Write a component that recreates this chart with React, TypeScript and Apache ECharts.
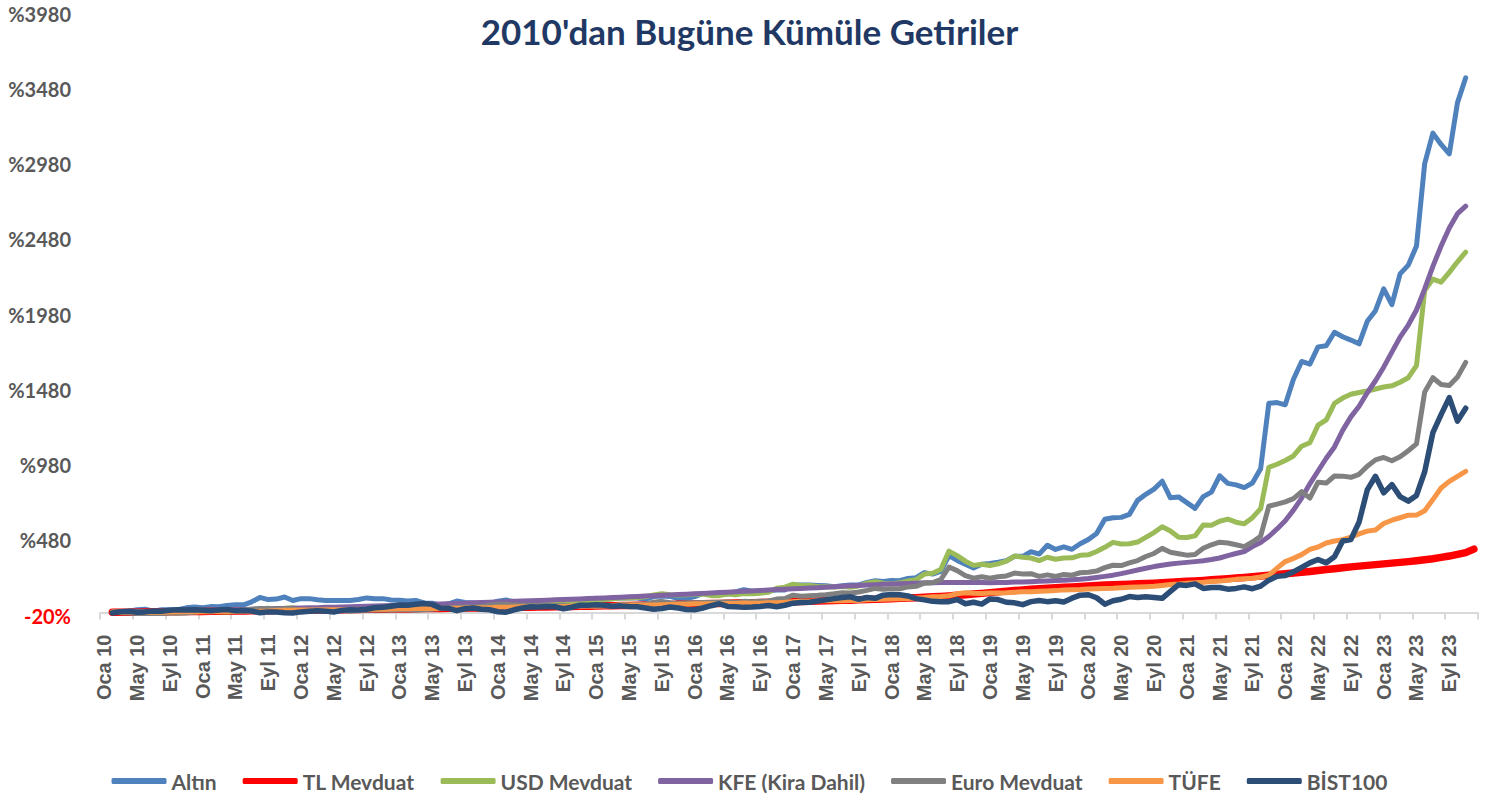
import React, { useEffect, useRef } from "react";
import * as echarts from "echarts";

const TITLE = "2010'dan Bugüne Kümüle Getiriler";
const MONTHS = ["Oca", "Şub", "Mar", "Nis", "May", "Haz", "Tem", "Ağu", "Eyl", "Eki", "Kas", "Ara"];
const YEARS = ["10", "11", "12", "13", "14", "15", "16", "17", "18", "19", "20", "21", "22", "23"];
const categories = YEARS.flatMap((y) => MONTHS.map((m) => `${m} ${y}`));

const Y_MIN = -20;
const Y_MAX = 3980;
const Y_STEP = 500;

// Cumulative returns (%), monthly, Jan 2010 .. Dec 2023
const altin = [
  null, 7, 5, 9, 18, 22, 9, 18, 18, 19, 31, 36,
  32, 39, 38, 47, 51, 51, 71, 100, 86, 89, 103, 80,
  92, 92, 84, 80, 80, 80, 80, 86, 97, 91, 92, 83,
  82, 76, 80, 63, 62, 48, 58, 76, 66, 63, 58, 60,
  75, 83, 71, 70, 62, 75, 70, 73, 72, 62, 63, 73,
  94, 88, 92, 96, 96, 96, 88, 106, 110, 107, 92, 92,
  105, 127, 117, 126, 123, 136, 151, 141, 145, 145, 150, 150,
  183, 182, 182, 179, 177, 171, 177, 183, 183, 200, 211, 206,
  212, 211, 226, 231, 265, 255, 273, 378, 346, 321, 296, 321,
  326, 334, 344, 374, 373, 404, 388, 447, 419, 436, 420, 457,
  485, 525, 620, 630, 632, 652, 745, 785, 820, 872, 762, 768,
  730, 692, 770, 800, 908, 858, 848, 830, 860, 955, 1390, 1395,
  1380, 1550, 1668, 1650, 1765, 1772, 1862, 1832, 1810, 1785, 1935, 2005,
  2150, 2045, 2250, 2308, 2435, 2983, 3185, 3110, 3047, 3388, 3553, null,
];

const tlMevduat = [
  null, 1, 1, 2, 2, 3, 4, 4, 5, 5, 6, 7,
  7, 8, 8, 9, 10, 10, 11, 12, 12, 13, 14, 15,
  15, 16, 17, 17, 18, 19, 20, 20, 21, 22, 22, 23,
  24, 24, 25, 26, 26, 27, 28, 28, 29, 30, 30, 31,
  32, 33, 34, 35, 35, 36, 37, 38, 39, 40, 41, 42,
  43, 44, 45, 46, 47, 48, 49, 51, 52, 53, 55, 56,
  57, 58, 59, 60, 62, 63, 64, 65, 66, 68, 69, 71,
  72, 73, 75, 76, 78, 79, 81, 82, 84, 86, 88, 90,
  92, 94, 96, 98, 101, 104, 107, 110, 114, 118, 123, 127,
  132, 137, 142, 146, 150, 154, 158, 161, 164, 167, 170, 173,
  176, 179, 182, 184, 186, 188, 191, 193, 195, 198, 201, 204,
  207, 210, 213, 217, 221, 225, 229, 233, 238, 243, 248, 253,
  258, 263, 268, 273, 279, 285, 291, 297, 303, 308, 313, 318,
  323, 328, 333, 338, 344, 350, 357, 366, 375, 386, 398, 421,
];

const usdMevduat = [
  null, 3, 2, 0, 7, 7, 2, 3, -2, -3, 4, 5,
  9, 9, 5, 4, 8, 11, 16, 21, 28, 22, 29, 31,
  23, 22, 24, 23, 30, 27, 25, 28, 26, 26, 26, 26,
  25, 28, 28, 27, 33, 38, 39, 45, 45, 43, 46, 55,
  64, 60, 55, 53, 52, 54, 56, 58, 66, 63, 63, 71,
  79, 84, 92, 97, 97, 99, 105, 117, 125, 118, 117, 118,
  122, 122, 112, 112, 123, 117, 126, 124, 128, 135, 161, 168,
  188, 178, 179, 173, 171, 170, 172, 167, 176, 195, 205, 194,
  191, 197, 210, 218, 255, 260, 286, 408, 378, 341, 313, 320,
  312, 323, 341, 375, 367, 362, 345, 367, 354, 362, 363, 380,
  383, 405, 433, 466, 455, 457, 468, 499, 531, 570, 542, 500,
  498, 509, 582, 580, 606, 620, 600, 589, 630, 690, 965, 985,
  1010, 1040, 1105, 1128, 1245, 1280, 1390, 1425, 1450, 1462, 1472, 1485,
  1498, 1506, 1530, 1560, 1640, 2140, 2215, 2195, 2260, 2330, 2395, null,
];

const kfe = [
  null, 1, 2, 3, 5, 6, 7, 8, 9, 10, 12, 13,
  14, 15, 16, 18, 19, 20, 22, 23, 24, 26, 27, 28,
  30, 31, 32, 34, 35, 37, 38, 40, 41, 43, 44, 46,
  48, 49, 51, 53, 55, 57, 58, 60, 62, 64, 66, 68,
  70, 72, 74, 76, 78, 80, 82, 84, 86, 88, 90, 93,
  95, 97, 100, 102, 105, 107, 110, 112, 115, 117, 120, 122,
  125, 127, 130, 133, 135, 138, 141, 143, 146, 149, 152, 154,
  157, 160, 163, 165, 168, 171, 174, 177, 179, 182, 184, 187,
  189, 191, 193, 195, 197, 198, 199, 200, 200, 200, 199, 199,
  198, 199, 200, 202, 203, 205, 207, 209, 212, 215, 218, 221,
  226, 233, 240, 248, 258, 270, 282, 294, 305, 314, 322, 328,
  333, 338, 344, 352, 362, 378, 392, 405, 438, 465, 505, 555,
  610, 680, 760, 855, 940, 1025, 1100, 1210, 1300, 1370, 1460, 1540,
  1630, 1730, 1830, 1910, 2010, 2150, 2300, 2435, 2555, 2650, 2700, null,
];

const euroMevduat = [
  null, 1, -1, -4, -6, -6, -5, -6, -4, -3, -3, 1,
  8, 8, 8, 11, 12, 17, 21, 26, 24, 23, 25, 23,
  15, 15, 17, 15, 14, 14, 9, 14, 15, 16, 16, 17,
  19, 18, 16, 18, 22, 26, 29, 35, 37, 36, 39, 49,
  55, 55, 49, 48, 44, 47, 45, 44, 46, 42, 41, 44,
  41, 43, 43, 53, 50, 53, 56, 68, 74, 65, 59, 64,
  65, 66, 67, 68, 70, 66, 74, 72, 75, 77, 89, 93,
  115, 108, 112, 114, 118, 124, 132, 130, 136, 147, 160, 154,
  158, 158, 170, 174, 195, 198, 218, 302, 278, 245, 228, 238,
  228, 238, 243, 262, 256, 258, 240, 250, 240, 252, 248, 264,
  268, 275, 298, 314, 312, 330, 345, 372, 392, 426, 400, 390,
  381, 385, 427, 450, 467, 462, 450, 438, 468, 507, 706, 720,
  735, 757, 803, 760, 866, 860, 907, 906, 898, 918, 972, 1014,
  1030, 1008, 1035, 1075, 1120, 1465, 1560, 1515, 1508, 1565, 1662, null,
];

const tufe = [
  null, 1.4, 2.0, 2.6, 2.3, 1.7, 1.2, 1.6, 2.9, 4.8, 4.8, 4.5,
  4.9, 5.7, 6.1, 7.0, 9.6, 8.0, 7.6, 8.2, 9.2, 12.8, 14.7, 15.4,
  16.0, 16.7, 17.2, 18.9, 18.7, 17.6, 17.5, 18.0, 19.2, 21.5, 22.2, 22.5,
  24.5, 24.9, 25.7, 26.2, 26.4, 27.8, 28.7, 28.4, 29.2, 31.4, 30.8, 31.6,
  34.2, 34.7, 36.3, 38.1, 38.6, 39.1, 39.7, 39.8, 40.0, 42.7, 42.9, 42.3,
  43.9, 44.9, 46.6, 49.0, 49.8, 49.1, 49.2, 49.8, 51.1, 53.5, 54.5, 54.8,
  57.7, 57.6, 57.6, 58.8, 59.7, 60.5, 62.3, 61.9, 62.2, 64.5, 65.3, 68.1,
  72.2, 73.6, 75.3, 77.6, 78.4, 78.0, 78.2, 79.2, 80.3, 84.1, 86.8, 88.1,
  90.0, 91.4, 93.3, 96.9, 100.0, 105.3, 106.4, 111.2, 124.5, 130.5, 127.2, 126.3,
  128.7, 129.1, 131.4, 135.3, 137.6, 137.6, 140.9, 142.9, 145.3, 150.2, 151.2, 153.1,
  156.5, 157.4, 158.8, 161.0, 164.6, 167.6, 169.1, 171.4, 174.1, 179.9, 186.3, 189.9,
  194.8, 197.5, 200.7, 205.8, 208.5, 214.5, 220.1, 223.7, 227.8, 235.6, 247.4, 294.6,
  338.4, 359.5, 384.6, 419.7, 435.2, 461.7, 475.0, 483.4, 501.4, 522.7, 540.6, 548.2,
  591.3, 613.1, 629.4, 646.9, 647.2, 676.5, 750.2, 827.5, 871.5, 904.8, 937.8, null,
];

const bist100 = [
  null, -3, 5, 8, 2, 4, 10, 8, 15, 18, 17, 18,
  15, 12, 16, 20, 12, 14, 10, -2, 4, 3, -2, -4,
  4, 8, 12, 9, 3, 14, 18, 17, 22, 32, 34, 42,
  50, 48, 55, 60, 54, 30, 28, 12, 25, 30, 22, 18,
  5, 2, 18, 30, 38, 36, 40, 38, 25, 35, 48, 48,
  52, 48, 42, 44, 40, 38, 30, 22, 26, 36, 30, 20,
  18, 30, 45, 58, 40, 38, 34, 36, 40, 46, 38, 48,
  62, 66, 68, 76, 84, 92, 100, 104, 88, 100, 94, 115,
  120, 118, 110, 92, 84, 74, 72, 72, 86, 58, 68, 56,
  90, 86, 68, 64, 52, 72, 80, 72, 78, 70, 95, 115,
  118, 98, 55, 78, 88, 106, 100, 104, 100, 94, 140, 185,
  180, 190, 160, 166, 166, 155, 160, 170, 158, 175, 215, 240,
  245, 270, 300, 330, 352, 330, 370, 475, 485, 600, 815, 905,
  795, 850, 770, 740, 778, 935, 1195, 1315, 1428, 1272, 1357, null,
];

const SERIES_NAMES = ["Altın", "TL Mevduat", "USD Mevduat", "KFE (Kira Dahil)", "Euro Mevduat", "TÜFE", "BİST100"];
const SERIES_DATA = [altin, tlMevduat, usdMevduat, kfe, euroMevduat, tufe, bist100];
const SERIES_COLORS = ["#4F81BD", "#FF0000", "#9BBB59", "#8064A2", "#808080", "#F79646", "#2C4D75"];
const SERIES_WIDTHS = [5, 7.5, 5, 5, 5, 5, 5.5];

const LABEL_COLOR = "#595959";

export default function App() {
  const ref = useRef<HTMLDivElement>(null);

  useEffect(() => {
    if (!ref.current) return;
    const chart = echarts.init(ref.current, null, { renderer: "svg" });

    const option: any = {
      animation: false,
      backgroundColor: "#ffffff",
      title: {
        text: TITLE,
        left: "center",
        top: 8,
        textStyle: {
          fontFamily: "Lato",
          fontWeight: "bold",
          fontSize: 35,
          color: "#1F3864",
        },
      },
      legend: {
        data: SERIES_NAMES,
        left: "center",
        top: 763,
        icon: "roundRect",
        itemWidth: 55,
        itemHeight: 6,
        itemGap: 26,
        textStyle: {
          fontFamily: "Lato",
          fontWeight: "bold",
          fontSize: 21,
          lineHeight: 26,
          color: LABEL_COLOR,
        },
      },
      grid: {
        left: 100,
        right: 21,
        top: 13.5,
        bottom: 180.5,
        containLabel: false,
      },
      xAxis: {
        type: "category",
        data: categories,
        boundaryGap: true,
        axisLine: { show: true, lineStyle: { color: "#D9D9D9", width: 2 } },
        axisTick: { show: true, interval: 3, length: 7, lineStyle: { color: "#D9D9D9", width: 2 } },
        axisLabel: {
          interval: 3,
          rotate: 90,
          margin: 19,
          fontFamily: "Liberation Sans",
          fontWeight: "bold",
          fontSize: 20,
          color: LABEL_COLOR,
        },
        splitLine: { show: false },
      },
      yAxis: {
        type: "value",
        min: Y_MIN,
        max: Y_MAX,
        interval: Y_STEP,
        axisLine: { show: false },
        axisTick: { show: false },
        splitLine: { show: false },
        axisLabel: {
          margin: 29,
          fontFamily: "Lato",
          fontWeight: "bold",
          fontSize: 20,
          color: LABEL_COLOR,
          formatter: (v: number) => (v < 0 ? `{neg|${v}%}` : `{pos|%${v}}`),
          rich: {
            neg: { color: "#FF0000", fontFamily: "Lato", fontWeight: "bold", fontSize: 20 },
            pos: { color: LABEL_COLOR, fontFamily: "Lato", fontWeight: "bold", fontSize: 20 },
          },
        },
      },
      series: SERIES_NAMES.map((name, i) => ({
        name,
        type: "line",
        data: SERIES_DATA[i],
        symbol: "none",
        showSymbol: false,
        connectNulls: false,
        color: SERIES_COLORS[i],
        lineStyle: {
          color: SERIES_COLORS[i],
          width: SERIES_WIDTHS[i],
          cap: "round",
          join: "round",
        },
        emphasis: { disabled: true },
      })),
    };

    chart.setOption(option);
    return () => chart.dispose();
  }, []);

  return (
    <div
      ref={ref}
      style={{ position: "absolute", left: 0, top: 0, width: 1499, height: 796, background: "#ffffff" }}
    />
  );
}
